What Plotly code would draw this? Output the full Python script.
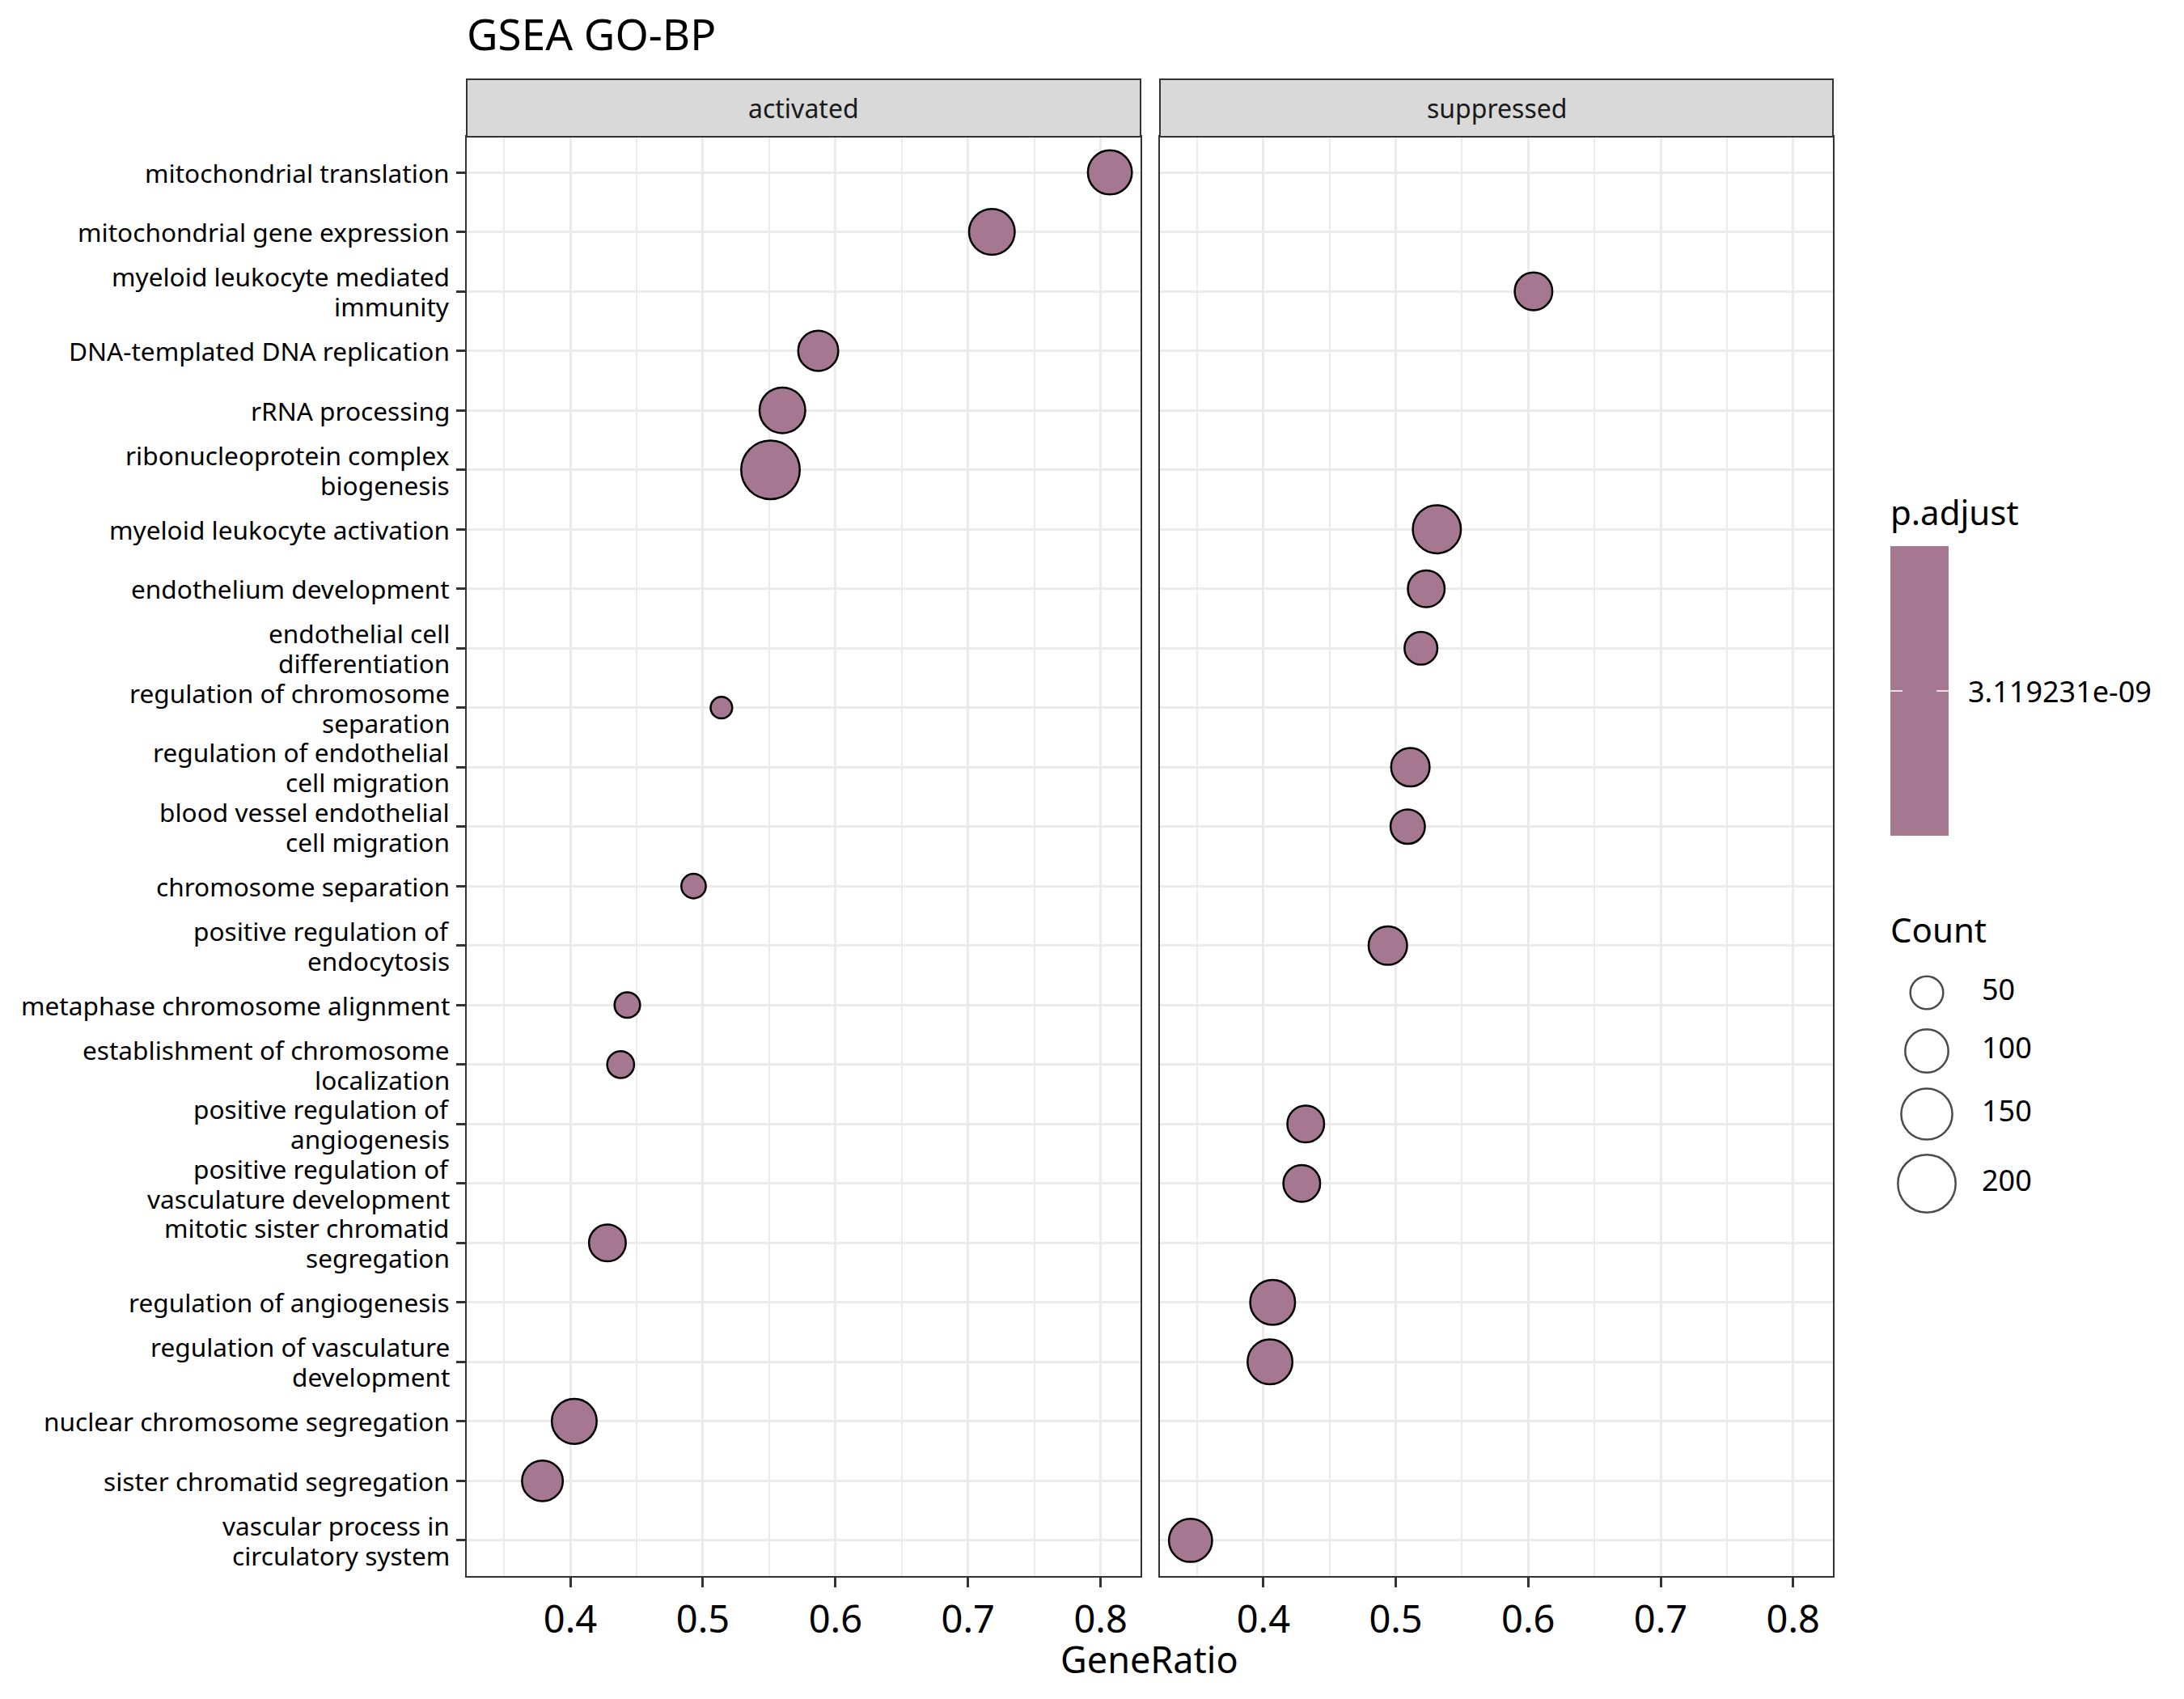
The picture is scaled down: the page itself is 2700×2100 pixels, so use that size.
import plotly.graph_objects as go
import numpy as np

# ---------------- data ----------------
terms = [
    "mitochondrial translation",
    "mitochondrial gene expression",
    "myeloid leukocyte mediated\nimmunity",
    "DNA-templated DNA replication",
    "rRNA processing",
    "ribonucleoprotein complex\nbiogenesis",
    "myeloid leukocyte activation",
    "endothelium development",
    "endothelial cell\ndifferentiation",
    "regulation of chromosome\nseparation",
    "regulation of endothelial\ncell migration",
    "blood vessel endothelial\ncell migration",
    "chromosome separation",
    "positive regulation of\nendocytosis",
    "metaphase chromosome alignment",
    "establishment of chromosome\nlocalization",
    "positive regulation of\nangiogenesis",
    "positive regulation of\nvasculature development",
    "mitotic sister chromatid\nsegregation",
    "regulation of angiogenesis",
    "regulation of vasculature\ndevelopment",
    "nuclear chromosome segregation",
    "sister chromatid segregation",
    "vascular process in\ncirculatory system",
]
groups = [
    "activated", "activated", "suppressed", "activated", "activated", "activated",
    "suppressed", "suppressed", "suppressed", "activated", "suppressed", "suppressed",
    "activated", "suppressed", "activated", "activated", "suppressed", "suppressed",
    "activated", "suppressed", "suppressed", "activated", "activated", "suppressed",
]
gene_ratio = [
    0.807, 0.718, 0.604, 0.587, 0.560, 0.551,
    0.531, 0.523, 0.519, 0.514, 0.511, 0.509,
    0.493, 0.494, 0.443, 0.438, 0.432, 0.429,
    0.428, 0.407, 0.405, 0.403, 0.379, 0.345,
]
counts = [
    105, 115, 71, 83, 115, 207,
    130, 67, 50, 15, 75, 56,
    22, 75, 25, 29, 67, 67,
    67, 110, 110, 110, 87, 100,
]
p_adjust = 3.119231e-09
p_adjust_label = "3.119231e-09"
facets = ["activated", "suppressed"]
x_ticks = [0.4, 0.5, 0.6, 0.7, 0.8]
x_tick_labels = ["0.4", "0.5", "0.6", "0.7", "0.8"]
count_breaks = [50, 100, 150, 200]

# ---------------- style / layout helpers ----------------
W, H = 2700, 2100
FONT = "Noto Sans"
FILL = "#A57790"
GRID = "#EBEBEB"
DARK = "#333333"
LINE_W = 2.5

def diam(c):
    return 12.4 + 4.35 * np.sqrt(np.asarray(c, dtype=float))

def px_x(p):
    return p / W

def px_y(p):
    return 1 - p / H

labels = [t.replace("\n", "<br>") for t in terms]
n = len(labels)

lo, hi = min(gene_ratio), max(gene_ratio)
span = hi - lo
x_range = [lo - 0.05 * span, hi + 0.05 * span]

panel_x = [(577, 1410), (1434, 2266)]
panel_top, panel_bot = 169, 1948
strip_top = 98
y_dom = [px_y(panel_bot), px_y(panel_top)]

fig = go.Figure()

for i, fac in enumerate(facets):
    idx = [k for k in range(n) if groups[k] == fac]
    suffix = "" if i == 0 else "2"
    fig.add_trace(go.Scatter(
        x=[gene_ratio[k] for k in idx],
        y=[labels[k] for k in idx],
        mode="markers",
        xaxis="x" + suffix, yaxis="y" + suffix,
        marker=dict(
            size=list(diam([counts[k] for k in idx]) - LINE_W),
            sizemode="diameter",
            color=FILL,
            line=dict(color="black", width=LINE_W),
            opacity=1,
        ),
        showlegend=False,
        hoverinfo="x+y",
    ))

axis_common_x = dict(
    range=x_range, tickvals=x_ticks, ticktext=x_tick_labels,
    ticks="outside", ticklen=12, tickwidth=2.5, tickcolor=DARK,
    tickfont=dict(family=FONT, size=47, color="black"),
    showgrid=True, gridcolor=GRID, gridwidth=3,
    minor=dict(dtick=0.05, tick0=0, showgrid=True, gridcolor=GRID, gridwidth=1.6, ticks=""),
    showline=True, mirror=True, linecolor=DARK, linewidth=2,
    zeroline=False,
)
axis_common_y = dict(
    type="category", categoryorder="array", categoryarray=labels,
    range=[n - 0.4, -0.6],
    showgrid=True, gridcolor=GRID, gridwidth=3,
    showline=True, mirror=True, linecolor=DARK, linewidth=2,
    zeroline=False, domain=y_dom, showticklabels=False,
)

fig.update_layout(
    xaxis=dict(domain=[px_x(panel_x[0][0]), px_x(panel_x[0][1])], anchor="y", **axis_common_x),
    xaxis2=dict(domain=[px_x(panel_x[1][0]), px_x(panel_x[1][1])], anchor="y2", **axis_common_x),
    yaxis=dict(anchor="x", ticks="outside", ticklen=11, tickwidth=2.5, tickcolor=DARK,
               **axis_common_y),
    yaxis2=dict(anchor="x2", matches="y", ticks="", **axis_common_y),
)

# p.adjust colour bar (single colour, drawn as a one-cell heatmap in hidden axes)
cb_x0, cb_x1, cb_y0, cb_y1 = 2337, 2409, 675, 1033
fig.add_trace(go.Heatmap(
    z=[[p_adjust]], x=[0], y=[0],
    colorscale=[[0, FILL], [1, FILL]], showscale=False,
    xaxis="x4", yaxis="y4", hoverinfo="z",
))
fig.update_layout(
    xaxis4=dict(domain=[px_x(cb_x0), px_x(cb_x1)], range=[-0.5, 0.5],
                visible=False, anchor="y4", fixedrange=True),
    yaxis4=dict(domain=[px_y(cb_y1), px_y(cb_y0)], range=[-0.5, 0.5],
                visible=False, anchor="x4", fixedrange=True),
)

# Count legend (separate hidden axes, 1 unit = 1 px)
leg_top, leg_bot = 1180, 1520
leg_left, leg_right = 2340, 2640
leg_centers = [1227, 1299, 1377, 1463]
fig.add_trace(go.Scatter(
    x=[2382 - leg_left] * len(count_breaks), y=leg_centers,
    mode="markers", xaxis="x3", yaxis="y3",
    marker=dict(size=list(diam(count_breaks) - LINE_W), sizemode="diameter",
                color="white", line=dict(color="black", width=LINE_W)),
    showlegend=False, hoverinfo="skip",
))
fig.add_trace(go.Scatter(
    x=[2450 - leg_left] * len(count_breaks), y=leg_centers,
    mode="text", text=[str(c) for c in count_breaks], textposition="middle right",
    textfont=dict(family=FONT, size=36, color="black"),
    xaxis="x3", yaxis="y3", showlegend=False, hoverinfo="skip",
))
fig.update_layout(
    xaxis3=dict(domain=[px_x(leg_left), px_x(leg_right)], range=[0, leg_right - leg_left],
                visible=False, anchor="y3", fixedrange=True),
    yaxis3=dict(domain=[px_y(leg_bot), px_y(leg_top)], range=[leg_bot, leg_top],
                visible=False, anchor="x3", fixedrange=True),
)

shapes = []
annotations = []
for i, fac in enumerate(facets):
    x0, x1 = panel_x[i]
    shapes.append(dict(type="rect", xref="paper", yref="paper",
                       x0=px_x(x0), x1=px_x(x1), y0=px_y(panel_top), y1=px_y(strip_top),
                       fillcolor="#D9D9D9", line=dict(color=DARK, width=2), layer="above"))
    annotations.append(dict(text=fac, xref="paper", yref="paper",
                            x=px_x((x0 + x1) / 2), y=px_y((strip_top + panel_top) / 2),
                            xanchor="center", yanchor="middle", showarrow=False,
                            font=dict(family=FONT, size=32, color="#1A1A1A")))

# y-axis category labels (tight line spacing like the reference)
LINE_GAP = 37
for lab, term in zip(labels, terms):
    lines = term.split("\n")
    m = len(lines)
    for j, line in enumerate(lines):
        annotations.append(dict(
            text=line, xref="paper", yref="y", x=px_x(557), y=lab,
            xanchor="right", yanchor="middle", showarrow=False, borderpad=0,
            yshift=((m - 1) / 2 - j) * LINE_GAP,
            font=dict(family=FONT, size=31.6, color="black"),
        ))

# colour bar tick marks and label
cb_mid = (cb_y0 + cb_y1) / 2
for (a, b) in [(cb_x0, cb_x0 + 15), (cb_x1 - 15, cb_x1)]:
    shapes.append(dict(type="line", xref="paper", yref="paper",
                       x0=px_x(a), x1=px_x(b), y0=px_y(cb_mid), y1=px_y(cb_mid),
                       line=dict(color="white", width=1.5), layer="above"))
annotations.append(dict(text=p_adjust_label, xref="paper", yref="paper",
                        x=px_x(2431), y=px_y(cb_mid), xanchor="left", yanchor="middle",
                        showarrow=False, font=dict(family=FONT, size=36, color="black")))

annotations.append(dict(text="GeneRatio", xref="paper", yref="paper",
                        x=px_x((panel_x[0][0] + panel_x[1][1]) / 2), y=px_y(2050),
                        xanchor="center", yanchor="middle", showarrow=False, borderpad=0,
                        font=dict(family=FONT, size=45, color="black")))
annotations.append(dict(text="p.adjust", xref="paper", yref="paper",
                        x=px_x(2335), y=px_y(632), xanchor="left", yanchor="middle",
                        showarrow=False, font=dict(family=FONT, size=42, color="black")))
annotations.append(dict(text="Count", xref="paper", yref="paper",
                        x=px_x(2335), y=px_y(1148), xanchor="left", yanchor="middle",
                        showarrow=False, font=dict(family=FONT, size=42, color="black")))

fig.update_layout(
    width=W, height=H,
    margin=dict(l=0, r=0, t=0, b=0),
    paper_bgcolor="white", plot_bgcolor="white",
    font=dict(family=FONT, color="black"),
    title=dict(text="GSEA GO-BP", x=px_x(577), xanchor="left", xref="paper",
               y=px_y(43), yanchor="middle", yref="paper",
               font=dict(family=FONT, size=53, color="black")),
    shapes=shapes, annotations=annotations,
    showlegend=False,
)

fig.write_html("out.html")
